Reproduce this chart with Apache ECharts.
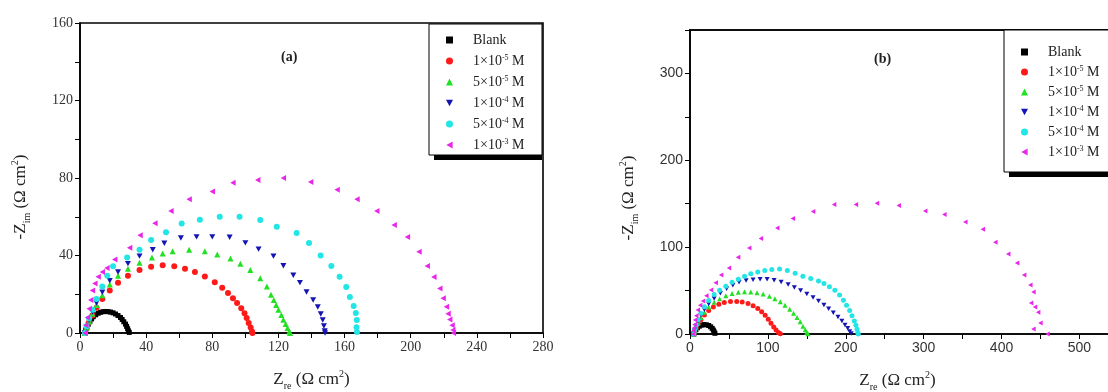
<!DOCTYPE html>
<html><head><meta charset="utf-8">
<script src="https://cdn.jsdelivr.net/npm/echarts@6/dist/echarts.min.js"></script>
<style>html,body{margin:0;padding:0;background:#fff}#c{width:1108px;height:392px}</style>
</head><body><div id="c"></div>
<script>
// ---- categories / legend ----
const seriesNames = ['Blank', '1e-5', '5e-5', '1e-4', '5e-4', '1e-3'];
const legendLabels = ['Blank', '1×10{sup|-5} M', '5×10{sup|-5} M', '1×10{sup|-4} M', '5×10{sup|-4} M', '1×10{sup|-3} M'];
const colors = ['#000000', '#ff1a1a', '#22e022', '#1414b4', '#22e6e6', '#e826e8'];
const symbols = ['rect', 'circle', 'triangle', 'path://M0,0L10,0L5,9Z', 'circle', 'path://M9,0L9,10L0,5Z'];

// ---- panel (a) data: [Zre, -Zim] ----
const blankA = [[3,0],[3.5,1.5],[4,3],[5,4.5],[6,6],[7,7.3],[8,8.4],[9.5,9.4],[11,10.2],[12.5,10.7],[14,11],[15.5,11.1],[17,11],[18.5,10.8],[20,10.4],[21.5,9.8],[23,9],[24.5,8],[25.5,7],[26.5,5.8],[27.5,4.6],[28.2,3.4],[28.8,2.2],[29.3,1.1],[29.8,0.3]];
const redA = [[3,0],[4,2.5],[5.5,5.5],[7.5,9],[10,13],[13.5,17.5],[18,22],[23,26],[29,29.5],[36,32.5],[43,34.2],[50,35],[57,34.5],[63.5,33.2],[69.5,31.5],[75.5,29.2],[81.5,26.2],[86,23.3],[89.5,20.6],[92.5,18],[95,15.5],[97.5,12.8],[99.5,10.2],[100.8,7.8],[102,5.2],[103.2,2.8],[104,0.8],[104.3,0]];
const greenA = [[3,0],[4,2.8],[5.5,6],[7.5,10],[10,14.5],[13.5,19.5],[18,25],[23,29.5],[29,33.2],[36,36.3],[43.5,39],[50,41],[56,42.2],[66,43],[75.5,42.2],[83,40.5],[91,38.5],[97,35.8],[103,32.5],[109,28.2],[113,24],[115.5,19.8],[117.2,17],[118.6,14.5],[120,12],[121.8,9.3],[123,6.8],[124.4,4.6],[125.5,2.6],[126.6,0.8],[127,0]];
const blueA = [[3,0],[4,3],[5.5,6.5],[7.5,10.8],[10,15.5],[13.5,21],[18,27],[23,31.5],[29,35.8],[36,39.7],[44,43],[51,46.3],[61,49],[70.5,49.6],[80,49.6],[90.5,49.4],[100,46.5],[108,43.3],[117,39.7],[123,34.7],[129,29.8],[133,26],[137,21.2],[141,17],[143.8,13.4],[145.6,9.8],[146.8,6.7],[147.5,3.6],[148,1],[148.2,0]];
const cyanA = [[3,0],[4,3.5],[5.5,7.5],[7.5,12],[10,17.5],[13.5,24],[16.5,29.5],[20,34.5],[28.5,39],[36,43],[43,48],[52,52],[61.5,56.5],[72.5,58.5],[84.5,60],[96.5,60],[109,58.3],[119,54.8],[131,51.6],[138.5,46.5],[145.5,40],[152,34.6],[157,29],[161,23.7],[163.2,18.6],[165.5,14],[166.8,10.3],[167.4,6.7],[167.2,3],[167.5,0.5]];
const magentaA = [[3,0],[3.5,4],[4.5,8],[5.5,12.5],[6.5,17],[7.5,22],[9,25.5],[11,29],[13.5,31.5],[16.3,33.5],[21,38],[30,44],[36.3,50.5],[45.3,56.7],[55,63],[66,69],[80,73],[92.5,77.5],[107.5,79],[123,80],[139.5,78],[155.5,74],[167.5,69],[179.5,63],[190,55.7],[198,49.5],[205,42],[210,34.6],[214,28.9],[217.6,23],[219.6,18],[221.6,13.5],[222.6,10],[223.6,7],[225,4],[225.5,1.5],[225.8,0]];

// ---- panel (b) data ----
const blankB = [[5,0],[6,2.5],[7.5,5],[9.5,7.2],[12,9],[15,10.2],[18,10.8],[21,10.6],[24,9.8],[26.5,8.3],[28.5,6.5],[30,4.5],[31,2.5],[32,0.8]];
const redB = [[5,0],[6,3],[8,7],[10.5,11.5],[14,16.5],[18.5,22],[24,27],[30,31],[37,34.2],[44,36.3],[52,37.3],[60,37.5],[67,36.8],[74.5,35],[81,32.5],[87,29.5],[92,25.5],[96.5,21.5],[100.5,17],[104,12.5],[107.5,8],[110.5,4.5],[113.5,1.8],[116,0.3]];
const greenB = [[5,0],[6,3.5],[8,8],[10.5,13],[14,19],[18.5,25],[24,31],[31,36.5],[38,40.5],[46,44],[54,46.5],[62,48],[70,48.5],[78,48.3],[86,47.5],[94,46],[102,43.5],[109,40.5],[116,37],[122,33],[128,28.5],[133,24],[137.5,19],[141.5,14],[145,9],[148,5],[150,2],[151.5,0.3]];
const blueB = [[5,0],[6,4],[8,9],[10.5,15],[14,21.5],[18.5,28],[24,34.5],[31,41],[39,47],[47,52],[55,56],[63,59.5],[72,61.5],[81,62.5],[90,63],[99,63],[108,62],[117,60],[126,57],[134,53.5],[142,50],[150,46],[158,42],[165,38],[172,33.5],[178,29],[184,24.5],[190,19.5],[195,15],[199,10.5],[202.5,6.5],[205,3],[207,0.5]];
const cyanB = [[5,0],[6,4.5],[8,10],[10.5,16.5],[14,24],[18.5,31.5],[24,38.5],[31,45.5],[38,50.5],[46,55],[54,59.5],[62,63],[70,66.5],[78,69.5],[87,71.5],[96,73],[105,74.2],[115,74.7],[125,73],[135,70],[145,66.5],[155,64],[165,61],[172,58],[179,54.5],[186,50.5],[192,45],[197,39],[201,33],[205,27],[208,21],[211,15],[213,10],[214.5,5.5],[215.5,1.5],[216,0]];
const magentaB = [[4,0],[4.5,4],[5,7],[6,11],[6.5,16],[8,21],[10,27.6],[13,33],[16.7,38],[21,44],[27,50.6],[33,59],[40,68],[50,76],[61.7,88.5],[76,99],[91,110],[112,122],[132,133],[158,141],[185,149],[213,149],[240,150.5],[268,148],[302,141.7],[326.6,137.5],[353.5,129],[376,120.7],[392,105.7],[408.6,92],[420,81.6],[429,68],[437,56.3],[441,48.3],[438,35.6],[443,31],[447,25],[450,12.6],[441,5.7],[459,0]];

// ---- axis tick settings ----
const xTicksA = {min: 0, max: 280, interval: 40};
const yTicksA = {min: 0, max: 160, interval: 40};
const xTicksB = {min: 0, max: 538, interval: 100};
const yTicksB = {min: 0, max: 350, interval: 100};

const dataA = [blankA, redA, greenA, blueA, cyanA, magentaA];
const dataB = [blankB, redB, greenB, blueB, cyanB, magentaB];

const SERIF = '"Liberation Serif","Times New Roman",serif';
const SANS = '"Liberation Sans",Arial,sans-serif';

const nameRich = {
  a: {fontFamily: SERIF, fontSize: 17, color: '#222', lineHeight: 22, verticalAlign: 'middle'},
  s: {fontFamily: SERIF, fontSize: 10, color: '#222', lineHeight: 22, verticalAlign: 'bottom'},
  p: {fontFamily: SERIF, fontSize: 10, color: '#222', lineHeight: 22, verticalAlign: 'top'}
};
const xName = '{a|Z}{s|re}{a| (Ω cm}{p|2}{a|)}';
const yName = '{a|-Z}{s|im}{a| (Ω cm}{p|2}{a|)}';

function xAxis(gi, t, font, namePad) {
  return {
    type: 'value', gridIndex: gi, min: t.min, max: t.max, interval: t.interval,
    name: xName, nameLocation: 'middle', nameGap: 36, nameTextStyle: {rich: nameRich, padding: namePad},
    axisLine: {show: true, onZero: false, lineStyle: {color: '#000', width: 1.6}},
    axisTick: {show: true, inside: false, length: 5, lineStyle: {color: '#000', width: 1}},
    minorTick: {show: true, splitNumber: 2, length: 5, lineStyle: {color: '#000', width: 1}},
    splitLine: {show: false},
    axisLabel: {fontFamily: font, fontSize: 14, color: '#333', margin: 7, showMaxLabel: t.max % t.interval === 0}
  };
}
function yAxis(gi, t, font, gap, namePad) {
  return {
    type: 'value', gridIndex: gi, min: t.min, max: t.max, interval: t.interval,
    name: yName, nameLocation: 'middle', nameGap: gap, nameRotate: 90, nameTextStyle: {rich: nameRich, padding: namePad},
    axisLine: {show: true, onZero: false, lineStyle: {color: '#000', width: 1.6}},
    axisTick: {show: true, inside: false, length: 5, lineStyle: {color: '#000', width: 1}},
    minorTick: {show: true, splitNumber: 2, length: 5, lineStyle: {color: '#000', width: 1}},
    splitLine: {show: false},
    axisLabel: {fontFamily: font, fontSize: 14, color: '#333', margin: 7, showMaxLabel: t.max % t.interval === 0}
  };
}

const series = [];
[dataA, dataB].forEach((set, gi) => {
  set.forEach((d, i) => {
    series.push({
      type: 'scatter', name: seriesNames[i], xAxisIndex: gi, yAxisIndex: gi,
      data: d, symbol: symbols[i], symbolKeepAspect: true,
      symbolSize: i === 0 ? 5 : (gi === 0 ? 6 : 5),
      itemStyle: {color: colors[i], opacity: 1},
      emphasis: {disabled: true}, z: 2
    });
  });
});

function legend(left, top, gap) {
  return {
    orient: 'vertical', left: left, top: top, padding: 0,
    itemWidth: 7, itemHeight: 7, itemGap: gap, z: 10,
    selectedMode: false,
    data: seriesNames,
    formatter: n => legendLabels[seriesNames.indexOf(n)],
    textStyle: {
      fontFamily: SERIF, fontSize: 14, color: '#222', padding: [0, 0, 0, 15], lineHeight: 14,
      rich: {sup: {fontFamily: SERIF, fontSize: 8, color: '#222', verticalAlign: 'top', lineHeight: 14}}
    }
  };
}

const chart = echarts.init(document.getElementById('c'), null, {renderer: 'canvas'});
chart.setOption({
  animation: false,
  backgroundColor: '#fff',
  grid: [
    {left: 80, top: 23, width: 463, height: 310, show: true, borderColor: '#000', borderWidth: 1.6, backgroundColor: 'transparent', outerBoundsMode: 'none', containLabel: false},
    {left: 690, top: 30, width: 419, height: 304, show: true, borderColor: '#000', borderWidth: 1.6, backgroundColor: 'transparent', outerBoundsMode: 'none', containLabel: false}
  ],
  xAxis: [xAxis(0, xTicksA, SERIF, [0, 0, 0, 0]), xAxis(1, xTicksB, SANS, [0, 4, 0, 0])],
  yAxis: [yAxis(0, yTicksA, SERIF, 48, [0, 38, 0, 0]), yAxis(1, yTicksB, SANS, 50, [0, 32, 0, 0])],
  legend: [legend(446, 33, 7), legend(1021, 45, 6)],
  graphic: [
    {type: 'line', z: 4, shape: {x1: 689, y1: 30, x2: 1108, y2: 30}, style: {stroke: '#000', lineWidth: 1.6}},
    {type: 'rect', z: 5, shape: {x: 434, y: 29, width: 108, height: 131}, style: {fill: '#000'}},
    {type: 'rect', z: 6, shape: {x: 429, y: 24, width: 113, height: 131}, style: {fill: '#fff', stroke: '#000', lineWidth: 1}},
    {type: 'rect', z: 5, shape: {x: 1009, y: 35, width: 120, height: 142}, style: {fill: '#000'}},
    {type: 'rect', z: 6, shape: {x: 1004, y: 30, width: 120, height: 142}, style: {fill: '#fff', stroke: '#000', lineWidth: 1}},
    {type: 'text', z: 6, left: 281, top: 50, style: {text: '(a)', fontFamily: SERIF, fontWeight: 'bold', fontSize: 14, fill: '#222'}},
    {type: 'text', z: 6, left: 874, top: 52, style: {text: '(b)', fontFamily: SERIF, fontWeight: 'bold', fontSize: 14, fill: '#222'}}
  ],
  series: series
});
</script></body></html>
